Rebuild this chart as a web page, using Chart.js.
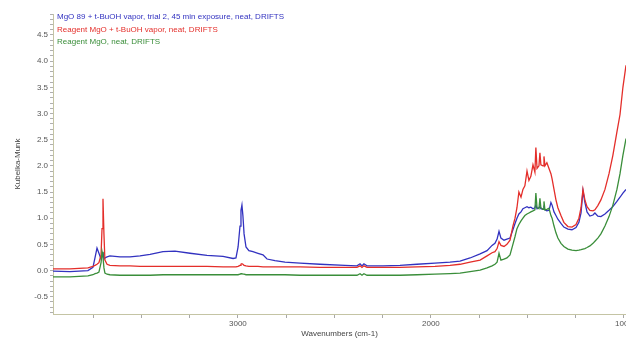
<!DOCTYPE html>
<html>
<head>
<meta charset="utf-8">
<script src="https://cdn.jsdelivr.net/npm/chart.js@4.4.1/dist/chart.umd.min.js"></script>
<style>
  html, body { margin: 0; padding: 0; background: #ffffff; }
  #wrap { width: 626px; height: 341px; }
</style>
</head>
<body>
<div id="wrap"><canvas id="spectrum" width="626" height="341"></canvas></div>
<script>
// Wavenumbers (cm-1), left to right
const WAVENUMBERS = [
  3958, 3870, 3777, 3751, 3740, 3730, 3720, 3709, 3704, 3699, 3694, 3689, 3678, 3663,
  3611, 3559, 3507, 3455, 3388, 3326, 3248, 3160, 3077, 3025, 3010, 2999, 2989, 2984,
  2979, 2974, 2968, 2958, 2943, 2922, 2896, 2870, 2849, 2808, 2756, 2678, 2575, 2445,
  2383, 2367, 2357, 2347, 2331, 2248, 2160, 2072, 1979, 1901, 1849, 1797, 1745, 1709,
  1683, 1668, 1657, 1647, 1637, 1621, 1606, 1590, 1575, 1564, 1554, 1544, 1533, 1523,
  1513, 1502, 1492, 1482, 1471, 1461, 1456, 1450, 1440, 1435, 1430, 1419, 1414, 1409,
  1399, 1388, 1378, 1372, 1362, 1352, 1342, 1326, 1311, 1290, 1269, 1248, 1233, 1222,
  1212, 1202, 1191, 1176, 1160, 1150, 1135, 1119, 1098, 1077, 1057, 1036, 1020, 1005, 989
];

// MgO 89 + t-BuOH vapor (blue)
const MGO89_BUOH = [
  -0.01, -0.02, 0.00, 0.06, 0.25, 0.43, 0.33, 0.22, 0.28, 0.35, 0.22, 0.24, 0.26, 0.28,
  0.26, 0.26, 0.28, 0.31, 0.36, 0.37, 0.33, 0.29, 0.27, 0.23, 0.24, 0.45, 0.85, 1.15,
  1.25, 1.05, 0.70, 0.45, 0.38, 0.36, 0.33, 0.30, 0.22, 0.19, 0.16, 0.14, 0.12, 0.10,
  0.09, 0.13, 0.09, 0.13, 0.09, 0.09, 0.10, 0.12, 0.14, 0.16, 0.18, 0.24, 0.32, 0.38,
  0.48, 0.52, 0.60, 0.75, 0.62, 0.58, 0.60, 0.62, 0.78, 0.90, 1.00, 1.08, 1.12, 1.18,
  1.20, 1.22, 1.20, 1.21, 1.18, 1.20, 1.25, 1.18, 1.20, 1.22, 1.18, 1.17, 1.20, 1.16,
  1.14, 1.15, 1.30, 1.25, 1.12, 1.05, 0.98, 0.90, 0.83, 0.79, 0.78, 0.82, 0.92, 1.10,
  1.52, 1.30, 1.12, 1.04, 1.06, 1.10, 1.04, 1.03, 1.08, 1.15, 1.22, 1.32, 1.40, 1.48, 1.55
];

// Reagent MgO + t-BuOH vapor (red)
const REAGENT_BUOH = [
  0.03, 0.03, 0.05, 0.08, 0.10, 0.12, 0.15, 0.30, 0.80, 1.37, 0.70, 0.20, 0.12, 0.10,
  0.09, 0.09, 0.08, 0.08, 0.08, 0.08, 0.08, 0.08, 0.07, 0.07, 0.07, 0.08, 0.10, 0.12,
  0.13, 0.12, 0.10, 0.09, 0.08, 0.08, 0.08, 0.07, 0.07, 0.07, 0.07, 0.07, 0.06, 0.06,
  0.06, 0.09, 0.06, 0.09, 0.06, 0.06, 0.06, 0.07, 0.08, 0.10, 0.12, 0.16, 0.20, 0.28,
  0.34, 0.36, 0.42, 0.55, 0.48, 0.46, 0.50, 0.58, 0.85, 1.00, 1.20, 1.50, 1.40, 1.55,
  1.62, 1.90, 1.72, 1.80, 2.02, 1.88, 2.35, 1.95, 2.00, 2.25, 2.02, 2.00, 2.18, 2.00,
  2.06, 1.95, 1.85, 1.75, 1.55, 1.35, 1.20, 1.05, 0.92, 0.84, 0.83, 0.88, 1.00, 1.20,
  1.55, 1.35, 1.22, 1.15, 1.14, 1.16, 1.24, 1.35, 1.55, 1.85, 2.20, 2.65, 2.98, 3.50, 3.92
];

// Reagent MgO, neat (green)
const REAGENT_NEAT = [
  -0.12, -0.12, -0.10, -0.08, -0.06, -0.05, -0.03, 0.15, 0.36, 0.25, 0.05, -0.05, -0.07, -0.08,
  -0.09, -0.09, -0.09, -0.09, -0.08, -0.08, -0.08, -0.08, -0.08, -0.08, -0.08, -0.08, -0.07, -0.06,
  -0.06, -0.07, -0.07, -0.08, -0.08, -0.08, -0.08, -0.08, -0.08, -0.08, -0.08, -0.09, -0.09, -0.09,
  -0.09, -0.06, -0.09, -0.06, -0.09, -0.09, -0.09, -0.08, -0.07, -0.06, -0.05, -0.02, 0.01, 0.05,
  0.09, 0.12, 0.16, 0.33, 0.20, 0.22, 0.24, 0.30, 0.50, 0.65, 0.80, 0.88, 0.95, 1.00,
  1.05, 1.08, 1.10, 1.12, 1.14, 1.16, 1.48, 1.20, 1.18, 1.38, 1.20, 1.17, 1.32, 1.16,
  1.17, 1.19, 1.05, 1.00, 0.85, 0.72, 0.62, 0.52, 0.46, 0.41, 0.39, 0.38, 0.39, 0.40,
  0.41, 0.42, 0.44, 0.47, 0.52, 0.56, 0.62, 0.70, 0.85, 1.03, 1.25, 1.55, 1.85, 2.20, 2.52
];

const SERIES_LABELS = [
  'MgO 89 + t-BuOH vapor, trial 2, 45 min exposure, neat, DRIFTS',
  'Reagent MgO + t-BuOH vapor, neat, DRIFTS',
  'Reagent MgO, neat, DRIFTS'
];
const SERIES_COLORS = ['#3232c0', '#e42e2a', '#3a8e3a'];

// axis ticks
const X_TICKS = [1000, 1250, 1500, 1750, 2000, 2250, 2500, 2750, 3000, 3250, 3500, 3750];
const X_LABELS = [1000, 2000, 3000];
const Y_LABELS = [-0.5, 0.0, 0.5, 1.0, 1.5, 2.0, 2.5, 3.0, 3.5, 4.0, 4.5];
const Y_MINOR_STEP = 0.1;

const X_MIN = 989, X_MAX = 3958;
const Y_MIN = -0.83, Y_MAX = 4.9;

const FONT = 'Liberation Sans, Arial, sans-serif';
const AXIS_COLOR = '#c4c4a4';

// y ticks every 0.1, labelled every 0.5
const yTicks = [];
for (let i = Math.ceil(Y_MIN / Y_MINOR_STEP); i * Y_MINOR_STEP <= Y_MAX; i++) {
  yTicks.push(Math.round(i * Y_MINOR_STEP * 10) / 10);
}

const isYLabel = v => Y_LABELS.some(l => Math.abs(l - v) < 1e-6);

const datasets = [MGO89_BUOH, REAGENT_BUOH, REAGENT_NEAT].map((vals, i) => ({
  label: SERIES_LABELS[i],
  data: WAVENUMBERS.map((w, j) => ({ x: w, y: vals[j] })),
  borderColor: SERIES_COLORS[i],
  borderWidth: 1.3,
  pointRadius: 0,
  tension: 0,
  fill: false,
}));
// green drawn first so blue sits on top, like the original
datasets.reverse();

// legend written inside the plot, top-left, one coloured line per series
const textLegend = {
  id: 'textLegend',
  afterDraw(chart) {
    const { ctx, chartArea } = chart;
    ctx.save();
    ctx.font = '8px ' + FONT;
    ctx.textBaseline = 'middle';
    ctx.textAlign = 'left';
    SERIES_LABELS.forEach((label, i) => {
      ctx.fillStyle = SERIES_COLORS[i];
      ctx.fillText(label, chartArea.left + 4, 17 + i * 12.5);
    });
    ctx.restore();
  }
};

new Chart(document.getElementById('spectrum'), {
  type: 'line',
  data: { datasets },
  options: {
    responsive: false,
    animation: false,
    layout: { padding: { top: 14, right: 0, left: 0, bottom: 0 } },
    plugins: {
      legend: { display: false },
      tooltip: { enabled: false },
    },
    scales: {
      x: {
        type: 'linear',
        reverse: true,
        min: X_MIN,
        max: X_MAX,
        afterBuildTicks: scale => { scale.ticks = X_TICKS.map(v => ({ value: v })); },
        afterFit: scale => {
          scale.height = 27;
          scale.paddingLeft = 0;
          scale.paddingRight = 0;
        },
        ticks: {
          autoSkip: false,
          maxRotation: 0,
          padding: 1,
          color: '#555555',
          font: { family: FONT, size: 8 },
          callback: v => (X_LABELS.includes(v) ? String(v) : ''),
        },
        grid: {
          display: true,
          drawOnChartArea: false,
          drawTicks: true,
          tickLength: 4,
          tickColor: '#a8a8a8',
        },
        border: { display: true, color: AXIS_COLOR, width: 1 },
        title: {
          display: true,
          text: 'Wavenumbers (cm-1)',
          color: '#444444',
          font: { family: FONT, size: 8 },
          padding: { top: 0, bottom: 2 },
        },
      },
      y: {
        type: 'linear',
        min: Y_MIN,
        max: Y_MAX,
        afterBuildTicks: scale => { scale.ticks = yTicks.map(v => ({ value: v })); },
        afterFit: scale => {
          scale.width = 53;
          scale.paddingTop = 0;
          scale.paddingBottom = 0;
        },
        ticks: {
          autoSkip: false,
          padding: 2,
          color: '#555555',
          font: { family: FONT, size: 8 },
          callback: v => (isYLabel(v) ? v.toFixed(1) : ''),
        },
        grid: {
          display: true,
          drawOnChartArea: false,
          drawTicks: true,
          tickLength: 3,
          tickColor: '#b0b0b0',
        },
        border: { display: true, color: AXIS_COLOR, width: 1 },
        title: {
          display: true,
          text: 'Kubelka-Munk',
          color: '#444444',
          font: { family: FONT, size: 8 },
          padding: { top: 13, bottom: 0 },
        },
      },
    },
  },
  plugins: [textLegend],
});
</script>
</body>
</html>
